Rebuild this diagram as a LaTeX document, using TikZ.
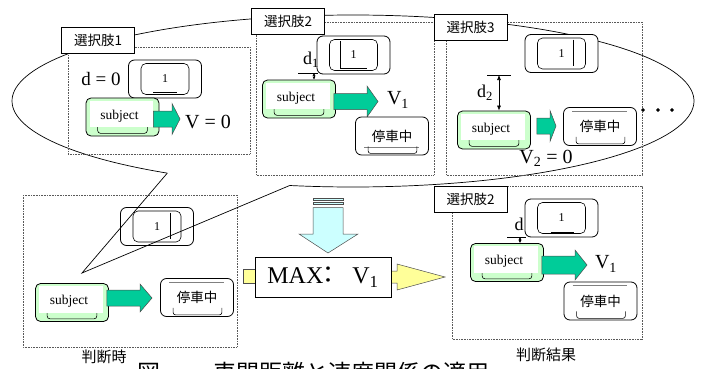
\documentclass[tikz,border=0pt]{standalone}
\usepackage{fontspec}
\setmainfont{Liberation Serif}
\newfontfamily\jp{Noto Sans CJK JP}
\usetikzlibrary{calc,arrows.meta}

\definecolor{subjgreen}{RGB}{204,255,204}
\definecolor{arrowgreen}{RGB}{0,204,153}
\definecolor{paleblue}{RGB}{204,255,255}
\definecolor{paleyellow}{RGB}{255,255,153}

\def \dotSize {1.6pt}

\tikzset{
  panel/.style={draw=black!65, line width=0.5pt, dash pattern=on 0.8pt off 0.8pt},
  tag/.style={draw, fill=white, line width=0.6pt, minimum width=73pt, minimum height=26pt, inner sep=0pt, font=\jp\fontsize{13.5}{13.5}\selectfont},
  keyout/.style={draw, fill=white, line width=0.8pt, rounded corners=6pt, minimum width=73pt, minimum height=38pt, inner sep=0pt},
  keyin/.style={draw, line width=0.6pt, rounded corners=5pt, minimum width=48pt, minimum height=31pt, inner sep=0pt, font=\fontsize{12}{12}\selectfont},
  subj/.style={draw, fill=subjgreen, line width=0.8pt, rounded corners=5pt, minimum width=73pt, minimum height=38pt, inner sep=0pt},
  stopnode/.style={draw, fill=white, line width=0.8pt, rounded corners=6pt, minimum width=73pt, minimum height=38pt, inner sep=0pt, font=\jp\fontsize{13.5}{13.5}\selectfont},
  big/.style={font=\fontsize{20}{20}\selectfont, inner sep=0pt},
  jpsmall/.style={font=\jp\fontsize{15}{15}\selectfont, inner sep=0pt},
  garrow/.style={fill=arrowgreen, draw=black!70, line width=0.5pt},
  dimarrow/.style={<->, >={Latex[length=5pt,width=4pt]}, line width=0.6pt},
  dimsmall/.style={<->, >={Latex[length=3pt,width=3pt]}, line width=0.5pt},
}

% boxes used in every panel
\newcommand{\keybox}[2]{% name, position
  \node[keyout] (#1) at (#2) {};
  \node[keyin] (#1i) at (#2) {1};
}
\newcommand{\subjbox}[2]{% name, position
  \node[subj] (#1) at (#2) {};
  \draw[line width=0.6pt, rounded corners=3pt] ([xshift=12pt,yshift=14pt]#1.south west) |- ([xshift=-12pt,yshift=3pt]#1.south east) -- ([xshift=-12pt,yshift=14pt]#1.south east);
  \fill[white] ([xshift=4pt,yshift=-3pt]#1.north west) rectangle ([xshift=-6pt,yshift=9pt]#1.south east);
  \node[font=\fontsize{13.5}{13.5}\selectfont, inner sep=0pt] at ([xshift=-3pt,yshift=1pt]#1.center) {subject};
}
\newcommand{\stopbox}[3]{% name, position, height of the thin line
  \node[stopnode] (#1) at (#2) {停車中};
  \draw[black!50, line width=0.5pt] ([xshift=9pt,yshift=#3]#1.south west) -- ([xshift=-10pt,yshift=#3]#1.south east);
  \draw[line width=0.6pt, rounded corners=2.5pt] ([xshift=13pt,yshift=9pt]#1.south west) |- ([xshift=-12pt,yshift=2pt]#1.south east) -- ([xshift=-12pt,yshift=9pt]#1.south east);
}
\newcommand{\blockarrow}[5]{% start, tip, shaft half width, head half width, head length
  \draw[garrow] let \p1=(#1), \p2=(#2) in
    (\x1,\y2+#3) -- (\x2-#5,\y2+#3) -- (\x2-#5,\y2+#4) -- (\x2,\y2) -- (\x2-#5,\y2-#4) -- (\x2-#5,\y2-#3) -- (\x1,\y2-#3) -- cycle;
}

\begin{document}
\begin{tikzpicture}[x=1pt, y=-1pt]
  \useasboundingbox (0,0) rectangle (704,369);
  \clip (0,0) rectangle (704,369);

  % callout round the three alternatives
  \coordinate (callA) at (167.3,173.1);
  \coordinate (callB) at (289.7,185.5);
  \coordinate (tip) at (82,273);
  \draw[line width=0.7pt] plot[domain=123:460.7, samples=180, smooth] ({353+341*cos(\x)},{101+86*sin(\x)});

  % alternative 1
  \draw[panel] (68,47) rectangle (250,154);
  \node[tag] (opt1) at (98,40) {選択肢1};
  \node[big, font=\fontsize{19}{19}\selectfont] (dzero) at (101,79) {d = 0};
  \keybox{key1}{165,79}
  \draw[line width=0.5pt] ([xshift=-12pt,yshift=3pt]key1i.south) -- ([xshift=12pt,yshift=3pt]key1i.south);
  \subjbox{sub1}{122.5,117}
  \coordinate (tip1) at (180,119);
  \blockarrow{[xshift=-6pt]sub1.east}{tip1}{8pt}{15.5pt}{8pt}
  \node[big] (val1) at (208,122) {V = 0};

  % alternative 2
  \draw[panel] (256,22) rectangle (434,175);
  \node[tag] (opt2) at (288,21.5) {選択肢2};
  \keybox{key2}{353.5,55}
  \draw[line width=0.5pt] ([xshift=11pt,yshift=-2pt]key2i.north west) -- ([xshift=11pt,yshift=3pt]key2i.south west) -- ++(27,0);
  \coordinate (d1top) at (314,73);
  \draw[line width=0.6pt] ([xshift=-16pt]d1top) -- ([xshift=4pt]d1top);
  \node[big, font=\fontsize{18}{18}\selectfont] (dist1) at (311,60) {d\textsubscript{1}};
  \subjbox{sub2}{299,99}
  \draw[dimsmall] (d1top) -- (d1top |- sub2.north);
  \coordinate (tip2) at (378,101.5);
  \blockarrow{[xshift=-2pt]sub2.east}{tip2}{8pt}{15.5pt}{11pt}
  \node[big] (val2) at (398,100) {V\textsubscript{1}};
  \stopbox{stop2}{392,136}{8pt}

  % alternative 3
  \draw[panel] (446,22) rectangle (642,175);
  \node[tag] (opt3) at (470.5,27) {選択肢3};
  \keybox{key3}{561.5,53.5}
  \draw[line width=0.5pt] ([xshift=-12.5pt,yshift=-2pt]key3i.north east) -- ([xshift=-12.5pt,yshift=3pt]key3i.south east);
  \subjbox{sub3}{494,130}
  \coordinate (d2top) at (499,75);
  \draw[line width=0.6pt] ([xshift=-12pt]d2top) -- ([xshift=12pt]d2top);
  \draw[dimarrow] (d2top) -- (d2top |- sub3.north);
  \node[big, font=\fontsize{18}{18}\selectfont] (dist2) at (485,93) {d\textsubscript{2}};
  \coordinate (tip3) at (556,126);
  \blockarrow{[xshift=6pt]sub3.east}{tip3}{8pt}{15.5pt}{6pt}
  \stopbox{stop3}{600,126.5}{35pt}
  \node[big] (val3) at (546,158) {V\textsubscript{2} = 0};
  \filldraw (643,110) circle (\dotSize);
  \filldraw (658,110) circle (\dotSize);
  \filldraw (672,110) circle (\dotSize);

  % situation at the moment of judgement
  \draw[panel] (23,195) rectangle (237,347);
  \keybox{key4}{157,226.5}
  \draw[line width=0.5pt] ([xshift=-11pt,yshift=-2pt]key4i.north east) -- ([xshift=-11pt,yshift=3pt]key4i.south east);
  \subjbox{sub4}{72,302.5}
  \coordinate (tip4) at (152,298);
  \blockarrow{[xshift=-2pt]sub4.east}{tip4}{8pt}{14pt}{12pt}
  \stopbox{stop4}{197,297.5}{35pt}
  \node[jpsmall] (when) at (104,357) {判断時};
  \draw[line width=0.7pt] (callA) -- (tip) -- (callB);

  % choosing the maximum
  \filldraw[fill=paleblue, draw=black!70, line width=0.5pt] (313,198) rectangle (343,200.5);
  \filldraw[fill=paleblue, draw=black!70, line width=0.5pt] (313,202) rectangle (343,204.5);
  \filldraw[fill=paleblue, draw=black!70, line width=0.5pt] (313,207.5) -- (343,207.5) -- (343,234) -- (358,234) -- (328,253) -- (299,234) -- (313,234) -- cycle;
  \filldraw[fill=paleyellow, draw=black!70, line width=0.5pt] (243,269) rectangle (256,283);
  \filldraw[fill=paleyellow, draw=black!70, line width=0.5pt] (390,271) -- (397,271) -- (397,264) -- (445,277) -- (397,290) -- (397,283) -- (390,283) -- cycle;
  \node[draw, fill=white, line width=0.6pt, minimum width=136pt, minimum height=40pt, inner sep=0pt, font=\fontsize{24}{24}\selectfont] (max) at (323,277) {MAX\kern-7pt{\jp ：}\kern12pt V\textsubscript{1}};

  % result of the judgement
  \draw[panel] (452,186) rectangle (642,339);
  \node[tag] (opt2b) at (470.5,199) {選択肢2};
  \keybox{key5}{561.5,218}
  \draw[line width=0.5pt] ([xshift=-11pt,yshift=2pt]key5i.south) -- ([xshift=12pt,yshift=2pt]key5i.south);
  \subjbox{sub5}{507,262.5}
  \coordinate (dtop) at (520,237);
  \draw[line width=0.6pt] ([xshift=-13pt]dtop) -- ([xshift=6pt]dtop);
  \draw[dimsmall] (dtop) -- (dtop |- sub5.north);
  \node[big, font=\fontsize{18}{18}\selectfont] (dist5) at (519,224) {d};
  \coordinate (tip5) at (587,265);
  \blockarrow{[xshift=-2pt]sub5.east}{tip5}{9pt}{15pt}{12pt}
  \node[big] (val5) at (606,264) {V\textsubscript{1}};
  \stopbox{stop5}{600.5,301}{35pt}
  \node[jpsmall] (result) at (546,355) {判断結果};

  % caption, cut by the lower edge
  \node[anchor=base, inner sep=0pt, font=\jp\fontsize{23}{23}\selectfont] (fig) at (148.5,381) {図};
  \node[anchor=base west, inner sep=0pt, font=\jp\fontsize{23}{23}\selectfont] (title) at (213,381) {車間距離と速度関係の適用};
\end{tikzpicture}
\end{document}
